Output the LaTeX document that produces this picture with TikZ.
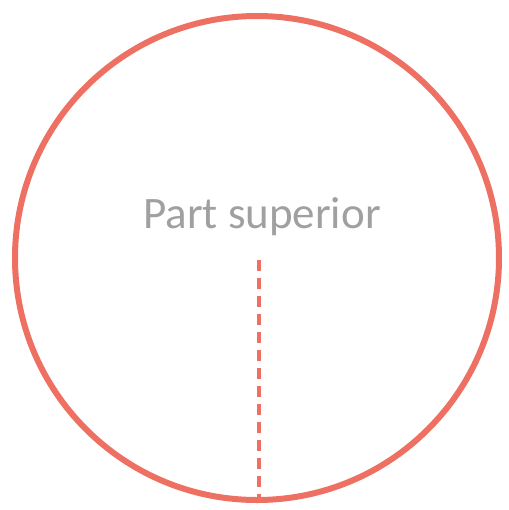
\documentclass[tikz,border=0pt]{standalone}
\usepackage{fontspec}
\setmainfont{Carlito}
\usetikzlibrary{positioning,calc}
\definecolor{accentsalmon}{RGB}{238,112,98}
\definecolor{labelgray}{RGB}{160,160,160}

\begin{document}
\begin{tikzpicture}[x=0.5pt,y=-0.5pt]
  \useasboundingbox (0,0) rectangle (509,510);
  \node[circle, draw=accentsalmon, line width=3pt, minimum size=242pt,
        inner sep=0pt, outer sep=0pt] (rim) at (257,258) {};
  \node[font=\fontsize{22.5}{26}\selectfont, text=labelgray] (label) at (262,217) {Part superior};
  \coordinate (centre) at (259,260);
  \draw[accentsalmon, line width=2pt, dash pattern=on 5.5pt off 3.5pt] (centre) -- (centre |- rim.south);
\end{tikzpicture}
\end{document}
